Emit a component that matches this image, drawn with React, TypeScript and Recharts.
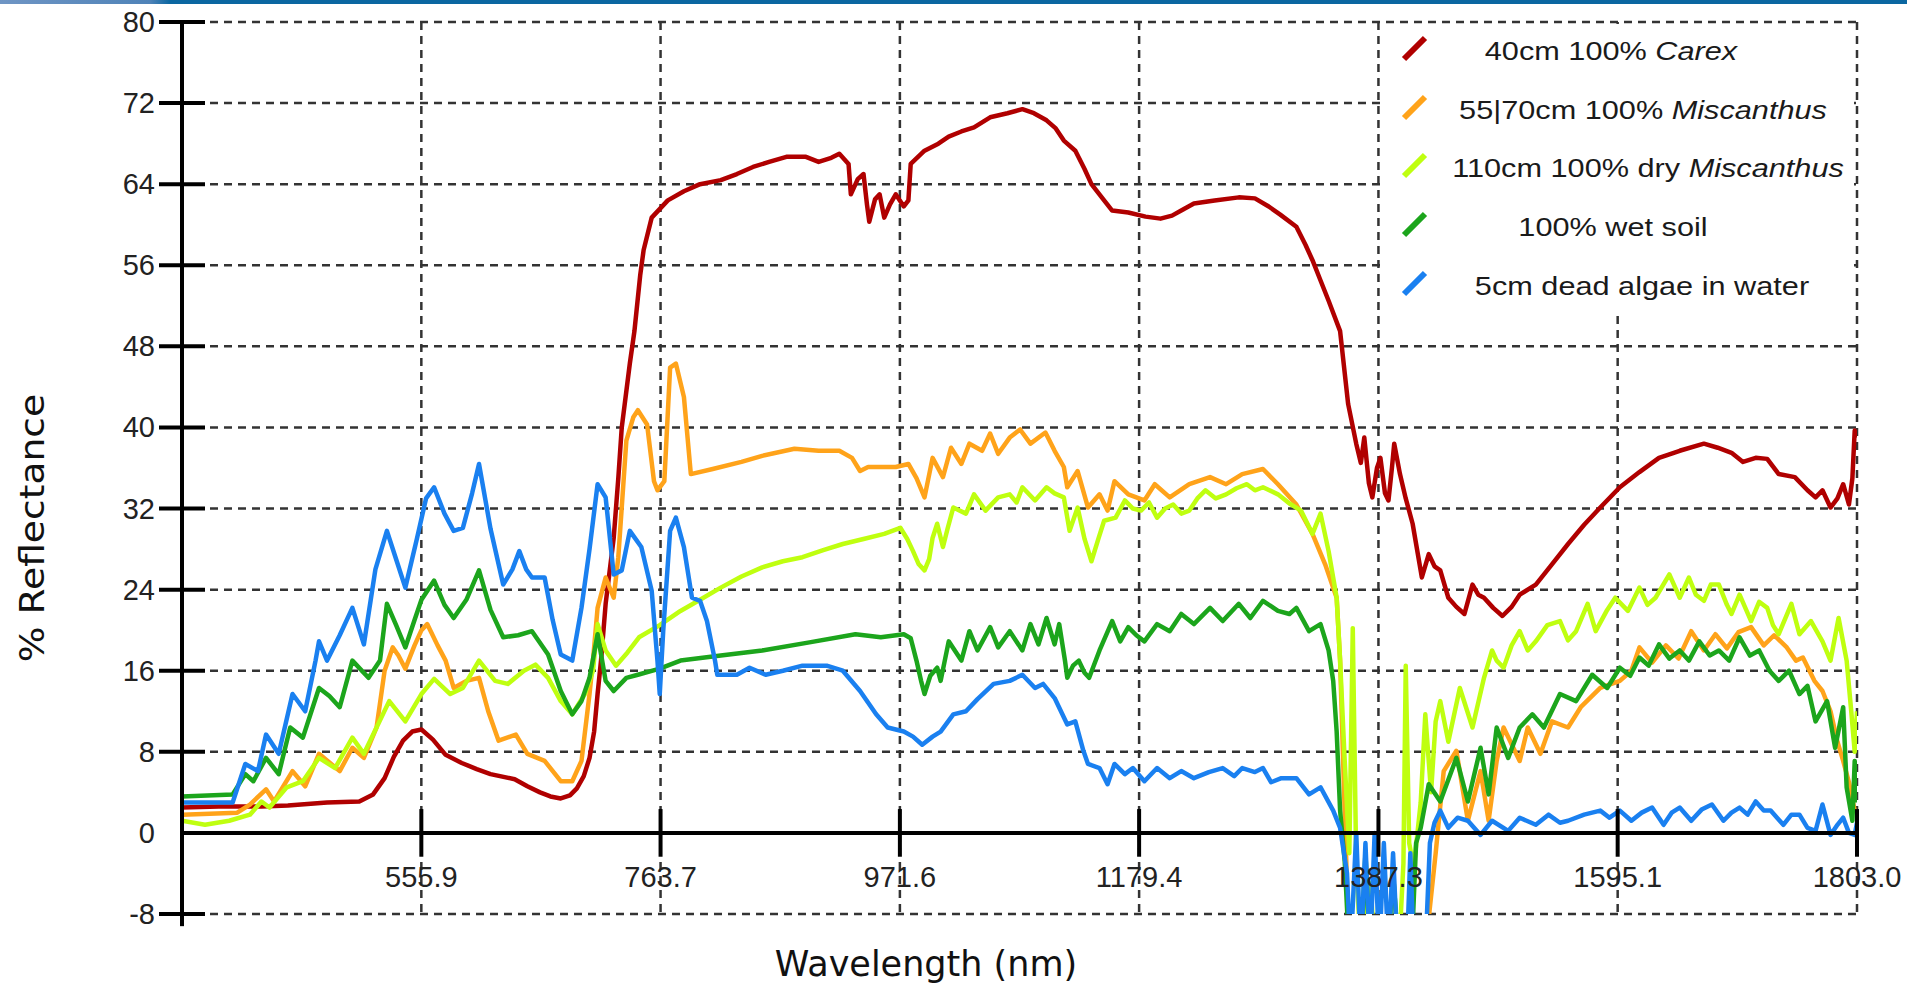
import { LineChart, Line, XAxis, YAxis, CartesianGrid, ReferenceLine } from "recharts";

// wavelength (nm) / % reflectance pairs
const carex: [number, number][] = [
  [348, 2.5], [380, 2.6], [417, 2.6], [440, 2.7], [474, 3.0], [502, 3.1], [514, 3.8], [524, 5.4], [532, 7.5], [540, 9.1],
  [548, 10.0], [556, 10.2], [566, 9.2], [577, 7.7], [591, 6.9], [604, 6.3], [616, 5.8], [637, 5.3], [648, 4.6], [659, 4.0],
  [668, 3.6], [677, 3.4], [685, 3.7], [691, 4.4], [697, 5.6], [702, 7.4], [706, 10], [709, 13.7], [712, 17], [716, 22.6],
  [723, 29.1], [727, 35], [730, 40], [737, 46.3], [741, 49.5], [746, 55], [749, 57.5], [756, 60.7], [770, 62.4], [784, 63.3],
  [798, 64.0], [816, 64.4], [830, 65], [844, 65.7], [858, 66.2], [873, 66.7], [890, 66.7], [901, 66.2], [912, 66.6], [919, 67],
  [927, 66], [929, 63], [935, 64.5], [940, 65], [943, 62], [945, 60.3], [950, 62.5], [954, 63], [958, 60.7], [963, 62],
  [968, 63], [975, 61.8], [979, 62.4], [981, 66], [993, 67.3], [1005, 68], [1014, 68.7], [1025, 69.2], [1036, 69.6], [1050, 70.6],
  [1065, 71], [1078, 71.4], [1088, 71], [1099, 70.3], [1107, 69.5], [1114, 68.3], [1124, 67.3], [1132, 65.5], [1138, 64], [1149, 62.4],
  [1156, 61.4], [1170, 61.2], [1185, 60.8], [1198, 60.6], [1208, 60.9], [1216, 61.4], [1227, 62.1], [1245, 62.4], [1266, 62.7], [1280, 62.6],
  [1292, 61.8], [1302, 61], [1316, 59.8], [1324, 58], [1330, 56.5], [1337, 54.5], [1344, 52.5], [1354, 49.5], [1361, 42.3], [1368, 38.4],
  [1372, 36.5], [1375, 39], [1379, 34.5], [1382, 33.1], [1386, 36], [1389, 37], [1393, 33.5], [1396, 32.8], [1399, 36], [1401, 38.4],
  [1406, 35.4], [1411, 33], [1417, 30.5], [1425, 25.2], [1431, 27.5], [1436, 26.3], [1441, 25.9], [1448, 23.2], [1455, 22.3], [1462, 21.6],
  [1469, 24.5], [1474, 23.5], [1479, 23.2], [1487, 22.2], [1495, 21.4], [1503, 22.3], [1510, 23.5], [1524, 24.5], [1538, 26.5], [1552, 28.5],
  [1566, 30.4], [1580, 32.1], [1597, 34.1], [1614, 35.6], [1631, 37], [1649, 37.7], [1670, 38.4], [1682, 38], [1694, 37.5], [1704, 36.6],
  [1715, 37], [1725, 36.9], [1735, 35.4], [1749, 35.1], [1760, 33.8], [1767, 33.1], [1773, 33.8], [1780, 32.1], [1786, 33], [1791, 34.4],
  [1796, 32.4], [1799, 35], [1801, 39.7], [1803, 39],
];

const miscanthus: [number, number][] = [
  [348, 1.8], [396, 2.0], [407, 2.8], [421, 4.3], [428, 3.1], [444, 6.1], [455, 4.6], [467, 7.8], [485, 6.1], [496, 8.4],
  [506, 7.4], [517, 10.4], [524, 16], [531, 18.3], [536, 17.5], [542, 16.2], [550, 18.5], [556, 20], [561, 20.6], [570, 18.5],
  [577, 17], [584, 14.3], [595, 15], [606, 15.3], [614, 12], [623, 9.1], [638, 9.7], [648, 7.8], [663, 7.1], [677, 5.1],
  [687, 5.1], [695, 7.1], [702, 13.7], [705, 17], [709, 22.2], [716, 25.2], [723, 23.2], [727, 27.2], [734, 38.7], [740, 41],
  [744, 41.7], [752, 40.3], [758, 34.7], [761, 33.8], [767, 34.7], [772, 45.9], [777, 46.3], [784, 43], [790, 35.4], [809, 35.9],
  [834, 36.6], [852, 37.2], [880, 37.9], [901, 37.7], [919, 37.7], [930, 37], [937, 35.7], [944, 36.1], [958, 36.1], [968, 36.1],
  [979, 36.4], [986, 35], [993, 33.1], [1000, 37], [1009, 35.1], [1016, 38], [1025, 36.4], [1032, 38.4], [1043, 37.7], [1050, 39.4],
  [1057, 37.4], [1067, 39], [1076, 39.8], [1085, 38.4], [1098, 39.5], [1106, 37.7], [1114, 36.1], [1117, 34.1], [1126, 35.7], [1135, 32.1],
  [1145, 33.4], [1152, 31.8], [1158, 34.7], [1170, 33.4], [1184, 32.8], [1193, 34.4], [1206, 33.1], [1223, 34.4], [1241, 35.1], [1255, 34.4],
  [1269, 35.4], [1287, 35.9], [1300, 34.4], [1316, 32.4], [1330, 29.5], [1341, 26.5], [1351, 23.2], [1354, 17], [1358, 2], [1362, -12],
  [1420, -12], [1426, -9], [1431, -8.4], [1437, -2], [1444, 6.1], [1455, 8.1], [1465, 1.2], [1476, 6.1], [1483, 1.2], [1490, 7.1],
  [1496, 10.4], [1510, 7.1], [1517, 10.4], [1528, 7.8], [1538, 11], [1552, 10.4], [1563, 12.4], [1580, 14.3], [1597, 15], [1607, 16],
  [1614, 18.3], [1625, 16.8], [1637, 18.5], [1648, 17.2], [1659, 19.9], [1670, 18], [1680, 19.6], [1690, 18.2], [1700, 19.8], [1711, 20.3],
  [1722, 18.5], [1731, 19.5], [1742, 18.3], [1750, 17], [1756, 17.3], [1766, 15], [1773, 14], [1780, 12], [1786, 9], [1791, 7.1],
  [1796, 5], [1801, 2.2], [1803, 2],
];

const dryMiscanthus: [number, number][] = [
  [348, 1.2], [368, 0.8], [389, 1.2], [407, 1.8], [417, 3.1], [424, 2.5], [439, 4.5], [453, 5.1], [467, 7.4], [481, 6.4],
  [496, 9.4], [506, 7.8], [517, 10.4], [528, 13], [542, 11], [556, 13.7], [567, 15.2], [581, 13.7], [592, 14.3], [606, 17],
  [620, 15], [631, 14.7], [645, 16], [655, 16.6], [666, 15.3], [677, 13], [687, 11.7], [698, 13.7], [705, 16], [709, 20.6],
  [716, 18], [725, 16.5], [735, 17.8], [745, 19.3], [763, 20.5], [781, 21.9], [798, 23], [816, 24.2], [834, 25.3], [852, 26.2],
  [870, 26.8], [887, 27.2], [905, 27.9], [922, 28.5], [940, 29], [958, 29.5], [972, 30.1], [978, 29], [983, 27.8], [988, 26.5],
  [993, 25.9], [997, 27], [1000, 29.1], [1004, 30.5], [1009, 28.2], [1013, 30], [1018, 32.1], [1029, 31.5], [1036, 33.4], [1046, 31.8],
  [1057, 33.1], [1067, 33.4], [1073, 32.6], [1078, 34.1], [1089, 32.8], [1099, 34.1], [1106, 33.5], [1114, 33.1], [1119, 29.8], [1126, 32.1],
  [1132, 29], [1138, 26.8], [1144, 29], [1149, 30.8], [1159, 31.1], [1167, 32.8], [1174, 32], [1181, 31.8], [1188, 32.6], [1195, 31.1],
  [1202, 32], [1209, 32.4], [1216, 31.5], [1223, 31.8], [1230, 33], [1237, 33.8], [1246, 33], [1255, 33.4], [1264, 34], [1273, 34.4],
  [1280, 33.8], [1287, 34.1], [1300, 33.4], [1310, 32.5], [1320, 31.8], [1330, 29.5], [1337, 31.5], [1344, 27.8], [1351, 23.2], [1354, 17],
  [1358, 7.1], [1362, -2], [1365, 20.2], [1368, -3], [1372, -12], [1380, -5], [1385, -12], [1396, -12], [1400, -4], [1405, -12],
  [1409, -3], [1411, 16.5], [1414, -1], [1418, -3.4], [1424, 3], [1428, 11.7], [1433, 4], [1437, 11], [1441, 13], [1448, 9],
  [1458, 14.3], [1469, 10.4], [1479, 15.3], [1486, 18], [1490, 17], [1496, 16.3], [1503, 18.5], [1510, 19.9], [1517, 18], [1524, 18.9],
  [1534, 20.5], [1545, 20.9], [1552, 19], [1559, 19.9], [1569, 22.6], [1576, 19.9], [1586, 22], [1593, 23.2], [1604, 21.9], [1614, 24.2],
  [1621, 22.5], [1628, 23.2], [1640, 25.5], [1649, 23.2], [1657, 25.2], [1663, 23.5], [1670, 22.9], [1676, 24.5], [1683, 24.5], [1690, 22.5],
  [1694, 21.6], [1701, 23.5], [1711, 20.9], [1718, 22.8], [1725, 22.2], [1730, 20.5], [1735, 19.6], [1746, 22.6], [1753, 19.6], [1763, 20.9],
  [1773, 18.9], [1780, 17], [1787, 21.2], [1794, 17], [1798, 12], [1801, 8], [1803, 12],
];

const wetSoil: [number, number][] = [
  [348, 3.6], [392, 3.8], [403, 5.8], [410, 5.1], [421, 7.4], [432, 5.8], [442, 10.4], [453, 9.4], [467, 14.3], [476, 13.5],
  [485, 12.4], [496, 17], [510, 15.3], [520, 17], [526, 22.6], [534, 20.5], [542, 18.3], [550, 21], [556, 23], [567, 24.9],
  [576, 22.5], [584, 21.2], [595, 23], [606, 25.9], [616, 22], [627, 19.3], [640, 19.5], [652, 19.9], [666, 17.6], [677, 14],
  [687, 11.7], [695, 13], [702, 15.3], [709, 19.6], [716, 15], [723, 14], [734, 15.3], [744, 15.6], [763, 16.2], [781, 17],
  [816, 17.5], [852, 18], [893, 18.8], [933, 19.6], [955, 19.3], [975, 19.6], [981, 19.2], [986, 17], [990, 15], [993, 13.7],
  [998, 15.5], [1004, 16.3], [1007, 15], [1014, 18.9], [1025, 17], [1032, 19.9], [1039, 18], [1050, 20.3], [1057, 18.3], [1067, 19.9],
  [1078, 18], [1085, 20.6], [1092, 18.6], [1099, 21.2], [1106, 18.6], [1110, 20.6], [1115, 17], [1117, 15.3], [1122, 16.5], [1127, 17],
  [1132, 15.8], [1136, 15.3], [1145, 18], [1156, 20.9], [1163, 18.9], [1170, 20.3], [1177, 19.5], [1184, 18.9], [1195, 20.6], [1206, 19.9],
  [1216, 21.6], [1227, 20.6], [1241, 22.2], [1252, 20.9], [1266, 22.6], [1276, 21.2], [1287, 22.9], [1300, 21.9], [1310, 21.6], [1316, 22.2],
  [1327, 19.9], [1337, 20.6], [1344, 18], [1348, 15], [1351, 10], [1354, 2.2], [1358, -2.8], [1362, -12], [1372, -12], [1376, -2],
  [1380, -12], [1395, -12], [1400, -4], [1405, -12], [1416, -12], [1420, -1], [1424, 0.5], [1431, 4.8], [1441, 3.1], [1455, 7.4],
  [1465, 3.1], [1476, 8.4], [1483, 3.8], [1490, 10.4], [1500, 7.4], [1510, 10.4], [1521, 11.7], [1531, 10.4], [1545, 13.7], [1559, 13],
  [1573, 15.6], [1586, 14.3], [1597, 16.3], [1606, 15.5], [1614, 17.3], [1622, 16.5], [1631, 18.6], [1640, 17.2], [1649, 18], [1657, 17],
  [1666, 18.9], [1675, 17.5], [1683, 18], [1692, 17], [1701, 19.3], [1710, 17.5], [1718, 18], [1727, 16], [1735, 15], [1744, 16],
  [1753, 13.7], [1760, 14.5], [1767, 11], [1777, 13], [1784, 8.4], [1791, 12.4], [1794, 4.5], [1799, 1.2], [1801, 7.1], [1803, 3],
];

const deadAlgae: [number, number][] = [
  [348, 3], [392, 3], [403, 6.8], [414, 6.1], [421, 9.7], [432, 7.8], [444, 13.7], [455, 12], [464, 17], [467, 18.9],
  [474, 17], [485, 19.5], [496, 22.2], [506, 18.6], [516, 26], [526, 29.8], [534, 27], [542, 24.2], [552, 29], [560, 33],
  [567, 34.1], [576, 31.5], [584, 29.8], [592, 30.1], [600, 33.5], [606, 36.4], [616, 30], [627, 24.5], [635, 26], [641, 27.8],
  [647, 26], [652, 25.2], [663, 25.2], [670, 21], [677, 17.6], [687, 17], [695, 22.2], [702, 28], [709, 34.4], [716, 33.1],
  [723, 25.5], [730, 25.9], [737, 29.8], [747, 28.2], [756, 23.9], [761, 17], [763, 13.7], [766, 19.9], [772, 29.8], [777, 31.1],
  [784, 28.2], [791, 23.2], [798, 22.9], [804, 20.9], [811, 17], [813, 15.6], [830, 15.6], [841, 16.3], [855, 15.6], [870, 16],
  [887, 16.5], [908, 16.5], [922, 16], [937, 14], [951, 11.7], [961, 10.4], [975, 10], [983, 9.5], [991, 8.7], [1000, 9.5],
  [1007, 10], [1018, 11.7], [1029, 12], [1039, 13.2], [1053, 14.7], [1067, 15], [1078, 15.6], [1089, 14.3], [1096, 14.7], [1106, 13.3],
  [1117, 10.7], [1124, 11], [1131, 8.1], [1135, 6.8], [1145, 6.4], [1152, 4.8], [1158, 6.8], [1167, 5.8], [1174, 6.4], [1184, 5.1],
  [1195, 6.4], [1206, 5.4], [1216, 6.1], [1227, 5.4], [1240, 6], [1252, 6.4], [1262, 5.6], [1269, 6.4], [1280, 6], [1287, 6.4],
  [1294, 5], [1303, 5.4], [1316, 5.4], [1327, 3.8], [1337, 4.5], [1348, 2.2], [1354, 0.5], [1360, -4], [1363, -12], [1368, 0],
  [1372, -12], [1376, -1], [1380, -12], [1384, 0], [1388, -12], [1392, -1], [1396, -12], [1400, -2], [1404, -12], [1412, -12],
  [1415, -2], [1418, -12], [1428, -12], [1432, -1], [1436, 1], [1441, 2.2], [1448, 0.5], [1456, 1.5], [1465, 1.2], [1476, -0.2],
  [1486, 1.2], [1500, 0.2], [1510, 1.5], [1524, 0.8], [1535, 1.8], [1545, 1], [1552, 1.2], [1566, 1.8], [1580, 2.2], [1588, 1.5],
  [1597, 2.2], [1607, 1.2], [1616, 2], [1625, 2.5], [1635, 0.8], [1642, 2], [1649, 2.5], [1659, 1.2], [1668, 2.3], [1677, 2.8],
  [1687, 1.2], [1694, 2], [1701, 2.5], [1708, 1.8], [1715, 3.1], [1722, 2.2], [1728, 2.2], [1739, 0.8], [1746, 1.8], [1753, 1.8],
  [1760, 0.5], [1767, 0.2], [1773, 2.8], [1780, -0.2], [1786, 0.8], [1791, 1.5], [1796, 0], [1801, -0.2], [1803, 1],
];

const xTicks = [555.9, 763.7, 971.6, 1179.4, 1387.3, 1595.1, 1803.0];
const yTicks = [-8, 0, 8, 16, 24, 32, 40, 48, 56, 64, 72, 80];

const toPoints = (arr: [number, number][]) => arr.map(([x, y]) => ({ x, y }));

const series = [
  { key: "carex", label: "40cm 100% ", species: "Carex", color: "#b00000", data: carex },
  { key: "misc", label: "55|70cm 100% ", species: "Miscanthus", color: "#ffa31a", data: miscanthus },
  { key: "dry", label: "110cm 100% dry ", species: "Miscanthus", color: "#bfff10", data: dryMiscanthus },
  { key: "soil", label: "100% wet soil", species: "", color: "#1ca51c", data: wetSoil },
  { key: "algae", label: "5cm dead algae in water", species: "", color: "#1a80f0", data: deadAlgae },
];

// legend text centre per row (px from legend box left), the original isn't evenly aligned
const legendTextCenter = [229, 261, 266, 231, 260];

const tickFont = "'Liberation Sans', Arial, sans-serif";

const YTick = ({ x, y, payload }: any) => (
  <g>
    {payload.value !== 0 && (
      <line x1={x - 23} x2={x + 23} y1={y} y2={y} stroke="#000" strokeWidth={4} />
    )}
    <text x={x - 27} y={y} textAnchor="end" dominantBaseline="central" fontSize={29} fill="#222" fontFamily={tickFont}>
      {payload.value}
    </text>
  </g>
);

const XTick = ({ x, y, payload }: any) => (
  <text x={x} y={y - 37} textAnchor="middle" dominantBaseline="central" fontSize={29} fill="#222" fontFamily={tickFont}>
    {Number(payload.value).toFixed(1)}
  </text>
);

export default function App() {
  return (
    <div style={{ position: "absolute", left: 0, top: 0, width: 1907, height: 984, background: "#fff", overflow: "hidden" }}>
      <div
        style={{
          position: "absolute", left: 0, top: 0, width: 1907, height: 4,
          background: "linear-gradient(to right, #6f95c4 0px, #4f83b8 150px, #0b67a1 170px, #0b67a1 100%)",
        }}
      />
      <LineChart width={1907} height={984} margin={{ top: 22, right: 50, left: 122, bottom: 40 }}>
        <CartesianGrid stroke="#333" strokeWidth={2.5} strokeDasharray="8 6" />
        <XAxis
          type="number"
          dataKey="x"
          domain={[348, 1803]}
          ticks={xTicks}
          allowDataOverflow
          axisLine={false}
          tickLine={false}
          tickSize={0}
          tickMargin={0}
          height={30}
          tick={<XTick />}
          interval={0}
        />
        <YAxis
          type="number"
          dataKey="y"
          domain={[-8, 80]}
          ticks={yTicks}
          allowDataOverflow
          width={60}
          axisLine={{ stroke: "#000", strokeWidth: 4 }}
          tickLine={false}
          tickSize={0}
          tickMargin={0}
          tick={<YTick />}
          interval={0}
        />
        {series.map((s) => (
          <Line
            key={s.key}
            data={toPoints(s.data)}
            dataKey="y"
            type="linear"
            stroke={s.color}
            strokeWidth={4.5}
            strokeLinejoin="round"
            dot={false}
            activeDot={false}
            isAnimationActive={false}
          />
        ))}
        <ReferenceLine y={0} stroke="#000" strokeWidth={4} />
        <ReferenceLine
          segment={[{ x: 348, y: -9.2 }, { x: 348, y: -8 }]}
          stroke="#000"
          strokeWidth={4}
          ifOverflow="visible"
        />
        {xTicks.map((t) => (
          <ReferenceLine
            key={t}
            segment={[{ x: t, y: -2.35 }, { x: t, y: 2.35 }]}
            stroke="#000"
            strokeWidth={4}
          />
        ))}
      </LineChart>

      {/* legend box sits between the 1387.3 and 1803 gridlines */}
      <div style={{ position: "absolute", left: 1382, top: 24, width: 472, height: 289, background: "#fff" }}>
        {series.map((s, i) => (
          <div key={s.key} style={{ position: "absolute", left: 0, top: 27 + i * 58.7, width: "100%" }}>
            <svg width={30} height={30} style={{ position: "absolute", left: 18, top: -18 }}>
              <line x1={4} y1={26} x2={25} y2={5} stroke={s.color} strokeWidth={6} />
            </svg>
            <div
              style={{
                position: "absolute", left: legendTextCenter[i], top: 0,
                transform: "translate(-50%, -50%) scaleX(1.18)",
                whiteSpace: "nowrap", fontFamily: tickFont, fontSize: 26, color: "#1a1a1a", lineHeight: "30px",
              }}
            >
              {s.label}
              {s.species && <i>{s.species}</i>}
            </div>
          </div>
        ))}
      </div>

      <div
        style={{
          position: "absolute", left: 926, top: 947, transform: "translateX(-50%)", whiteSpace: "nowrap",
          fontFamily: "'DejaVu Sans', sans-serif", fontSize: 35, lineHeight: "35px", color: "#111",
        }}
      >
        Wavelength (nm)
      </div>
      <div
        style={{
          position: "absolute", left: 32, top: 528, transform: "translate(-50%, -50%) rotate(-90deg) scaleX(1.14)",
          whiteSpace: "nowrap", fontFamily: "'DejaVu Sans', sans-serif", fontSize: 33, lineHeight: "33px", color: "#111",
        }}
      >
        % Reflectance
      </div>
    </div>
  );
}
